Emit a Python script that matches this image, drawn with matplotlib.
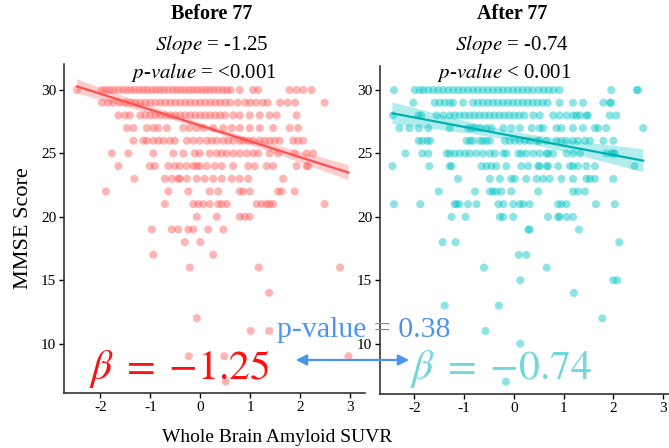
import numpy as np
import matplotlib.pyplot as plt
from matplotlib.patches import FancyArrowPatch

plt.rcParams['font.family'] = ['Liberation Serif', 'DejaVu Serif']
plt.rcParams['mathtext.fontset'] = 'stix'
plt.rcParams['axes.unicode_minus'] = False

# MMSE score -> amyloid SUVR (z) values, one list per score row
before_rows = {
    30: [-2.47, -1.97, -1.89, -1.81, -1.73, -1.64, -1.55, -1.47, -1.39, -1.31, -1.22, -1.14,
         -1.06, -0.97, -0.89, -0.81, -0.73, -0.64, -0.55, -0.47, -0.39, -0.31, -0.22, -0.14,
         -0.06, 0.03, 0.11, 0.19, 0.27, 0.36, 0.45, 0.53, 0.61, 0.79, 1.06, 1.16, 1.79, 1.93,
         2.06, 2.23],
    29: [-1.97, -1.85, -1.75, -1.62, -1.5, -1.4, -1.3, -1.2, -1.1, -1.0, -0.9, -0.8, -0.7,
         -0.6, -0.5, -0.4, -0.3, -0.2, -0.1, 0.0, 0.1, 0.2, 0.3, 0.4, 0.5, 0.6, 0.75, 0.9,
         1.0, 1.12, 1.25, 1.35, 1.6, 1.75, 1.9, 2.49],
    28: [-1.64, -1.51, -1.41, -1.2, -1.1, -1.0, -0.9, -0.8, -0.7, -0.6, -0.5, -0.4, -0.3,
         -0.2, -0.1, 0.0, 0.1, 0.2, 0.3, 0.4, 0.5, 0.66, 0.79, 0.99, 1.19, 1.39, 1.53, 1.93],
    27: [-1.47, -1.34, -1.07, -0.94, -0.84, -0.67, -0.34, -0.21, -0.07, 0.06, 0.26, 0.46,
         0.63, 0.79, 0.99, 1.19, 1.46, 1.79, 1.96],
    26: [-1.34, -1.14, -1.07, -0.94, -0.84, -0.74, -0.61, -0.51, -0.27, -0.14, -0.01, 0.13,
         0.23, 0.33, 0.46, 0.56, 0.66, 0.79, 0.86, 0.96, 1.06, 1.19, 1.29, 1.39, 1.49, 1.59,
         1.86, 1.96, 2.06],
    25: [-1.77, -1.44, -0.94, -0.54, -0.34, -0.11, -0.01, 0.19, 0.33, 0.43, 0.53, 0.66, 0.79,
         0.93, 1.06, 1.16, 1.39, 1.56, 1.89, 2.13, 2.26],
    24: [-1.64, -1.01, -0.91, -0.64, -0.51, -0.41, -0.27, -0.14, -0.07, -0.01, 0.13, 0.29,
         0.43, 0.66, 0.96, 1.09, 1.33, 1.46, 1.93, 2.13, 2.16],
    23: [-1.32, -0.71, -0.57, -0.44, -0.41, -0.27, -0.07, 0.09, 0.26, 0.43, 0.63, 0.79, 0.96,
         1.66],
    22: [-1.89, -0.64, -0.24, 0.19, 0.36, 0.79, 0.86, 0.99, 1.56, 1.63, 1.89],
    21: [-0.71, -0.14, -0.04, 0.06, 0.19, 0.36, 0.43, 0.53, 1.13, 1.23, 1.33, 1.39, 1.46, 2.49],
    20: [-0.07, 0.33, 0.79, 0.89, 0.99],
    19: [-0.97, -0.57, -0.44, -0.24, -0.14, 0.16, 0.46],
    18: [-0.31, 0.0],
    17: [-0.94, 0.26],
    16: [-0.21, 1.17, 2.8],
    14: [1.38],
    12: [-0.07],
    11: [1.01, 1.38],
    9: [-0.23, 0.48, 2.97],
    7: [0.51],
}

after_rows = {
    30: [-2.41, -1.99, -1.89, -1.82, -1.72, -1.62, -1.52, -1.42, -1.32, -1.22, -1.12, -1.02,
         -0.92, -0.82, -0.72, -0.62, -0.52, -0.42, -0.32, -0.22, -0.12, -0.02, 0.08, 0.18,
         0.28, 0.38, 0.5, 0.6, 0.7, 0.8, 0.92, 1.96, 2.47, 2.5],
    29: [-2.02, -1.59, -1.49, -1.39, -1.29, -1.22, -1.02, -0.82, -0.72, -0.62, -0.52, -0.42,
         -0.32, -0.22, -0.12, -0.02, 0.08, 0.18, 0.28, 0.38, 0.48, 0.58, 0.68, 0.92, 1.19,
         1.39, 1.8, 1.93, 1.96],
    28: [-2.43, -1.92, -1.86, -1.55, -1.42, -1.29, -1.19, -1.09, -0.99, -0.89, -0.79, -0.69,
         -0.59, -0.49, -0.39, -0.29, -0.19, -0.09, 0.01, 0.11, 0.21, 0.39, 0.52, 0.79, 0.92,
         1.06, 1.19, 1.26, 1.33, 1.46, 1.49, 1.93, 2.06],
    27: [-2.3, -2.1, -1.91, -1.72, -1.29, -0.92, -0.85, -0.78, -0.68, -0.55, -0.45, -0.21,
         -0.05, 0.12, 0.36, 0.52, 0.59, 0.86, 0.96, 1.19, 1.39, 1.63, 1.7, 1.86, 2.6],
    26: [-1.91, -1.84, -1.74, -1.68, -0.95, -0.88, -0.82, -0.68, -0.62, -0.55, -0.48, -0.18,
         -0.08, 0.02, 0.12, 0.22, 0.32, 0.46, 0.52, 0.66, 0.86, 0.96, 1.06, 1.19, 1.29, 1.43,
         1.53, 1.8, 2.0],
    25: [-2.18, -1.84, -1.72, -1.35, -1.29, -1.19, -1.09, -0.98, -0.88, -0.75, -0.62, -0.48,
         -0.38, -0.21, -0.15, 0.09, 0.15, 0.25, 0.39, 0.52, 0.66, 0.69, 0.79, 1.06, 1.19, 1.33,
         1.86, 1.96, 2.0, 2.03],
    24: [-2.44, -1.7, -1.29, -1.25, -0.65, -0.55, -0.45, -0.35, -0.15, 0.15, 0.29, 0.49, 0.52,
         0.66, 0.69, 0.89, 1.13, 1.19, 1.29, 1.46, 1.63, 2.43],
    23: [-1.12, -0.48, -0.28, -0.05, 0.02, 0.25, 0.46, 0.59, 0.72, 0.96, 1.19, 1.46, 1.53,
         1.63, 2.0],
    22: [-1.51, -0.78, -0.48, -0.42, -0.35, -0.25, -0.05, 0.49, 1.19, 1.29, 1.43],
    21: [-2.41, -1.88, -1.19, -1.15, -1.09, -0.92, -0.75, -0.31, -0.21, -0.01, 0.12, 0.19,
         0.32, 0.89, 0.96, 1.06, 1.65, 2.03],
    20: [-1.25, -0.97, -0.28, -0.21, -0.01, 0.69, 0.89, 0.92, 1.06, 1.19],
    19: [0.29, 0.32, 1.31],
    18: [-1.43, -1.17, 2.12],
    17: [0.1, 0.25],
    16: [-0.6, 0.66],
    15: [0.13, 2.0, 2.08],
    14: [1.21],
    13: [-1.39, -0.3],
    12: [1.78],
    11: [-0.57],
    10: [0.13],
    7: [-0.16],
}

# fitted lines as reported: slope, intercept, x span, CI half-width at the far end
before_fit = (-1.25, 27.2, -2.47, 2.97, 0.6)
after_fit = (-0.74, 26.36, -2.44, 2.6, 0.9)

titles = ["Before 77", "After 77"]
slope_txt = ["-1.25", "-0.74"]
pval_txt = ["= <0.001", "< 0.001"]


def flatten(rows):
    xs, ys = [], []
    for score, vals in rows.items():
        xs += vals
        ys += [score] * len(vals)
    return np.array(xs), np.array(ys, dtype=float)


def draw(ax, rows, fit, pt_color, line_color):
    x, y = flatten(rows)
    ax.scatter(x, y, s=34, color=pt_color, alpha=0.45, edgecolor='none', zorder=2)
    slope, icpt, x0, x1, ci_end = fit
    xx = np.linspace(x0, x1, 100)
    yy = icpt + slope * xx
    # confidence band shape of an OLS fit, scaled to the width seen at the ends
    shape = np.sqrt(1 / len(x) + (xx - x.mean()) ** 2 / np.sum((x - x.mean()) ** 2))
    half = ci_end * shape / shape.max()
    ax.fill_between(xx, yy - half, yy + half, color=pt_color, alpha=0.3,
                    edgecolor='none', zorder=3)
    ax.plot(xx, yy, color=line_color, lw=1.6, zorder=4)
    for sp in ['top', 'right']:
        ax.spines[sp].set_visible(False)
    for sp in ['left', 'bottom']:
        ax.spines[sp].set_linewidth(1.2)
        ax.spines[sp].set_color('#333333')
    ax.set_yticks([10, 15, 20, 25, 30])
    ax.set_xticks([-2, -1, 0, 1, 2, 3])
    ax.tick_params(direction='out', length=3.5, width=1, labelsize=11, pad=2)


W, H = 669, 448
fig = plt.figure(figsize=(W / 100, H / 100), dpi=100)
ax1 = fig.add_axes([64 / W, 1 - 393 / H, (365 - 64) / W, (393 - 64) / H])
ax2 = fig.add_axes([380 / W, 1 - 394 / H, (669 - 380) / W, (394 - 66) / H])

draw(ax1, before_rows, before_fit, '#ff5a5a', '#ff5050')
draw(ax2, after_rows, after_fit, '#00c4c4', '#00b0b0')
ax1.set_xlim(-2.73, 3.30)
ax1.set_ylim(6.1, 32.05)
ax2.set_xlim(-2.69, 3.12)
ax2.set_ylim(6.03, 31.9)

ax1.set_ylabel("MMSE Score", fontsize=16, labelpad=6)


def fx(px):
    return px / W


def fy(py):
    return 1 - py / H


for cx, t, sl, pv in zip([212, 512], titles, slope_txt, pval_txt):
    fig.text(fx(cx), fy(14), t, ha='center', va='center', fontsize=14.5, fontweight='bold')
    fig.text(fx(cx), fy(44), r"$\mathit{Slope}$ = " + sl, ha='center', va='center', fontsize=15)
    fig.text(fx(cx - 8), fy(72), r"$\mathit{p}$-$\mathit{value}$ " + pv, ha='center',
             va='center', fontsize=15)

fig.text(fx(277), fy(437), "Whole Brain Amyloid SUVR", ha='center', va='center', fontsize=14)

fig.text(fx(89), fy(379), r"$\beta\;=\;{-}1.25$", ha='left', va='baseline', fontsize=30,
         color='#ff1010', zorder=10)
fig.text(fx(410), fy(379), r"$\beta\;=\;{-}0.74$", ha='left', va='baseline', fontsize=30,
         color='#6fd8d8', zorder=10)
fig.text(fx(277), fy(337), "p-value = 0.38", ha='left', va='baseline', fontsize=21.5,
         color='#4d94f0', zorder=10)
fig.add_artist(FancyArrowPatch(
    (fx(293), fy(360)), (fx(412), fy(360)), transform=fig.transFigure,
    arrowstyle='<|-|>', mutation_scale=16, lw=1.6, color='#4d94f0', zorder=10))

fig.savefig("out.png", dpi=100)
